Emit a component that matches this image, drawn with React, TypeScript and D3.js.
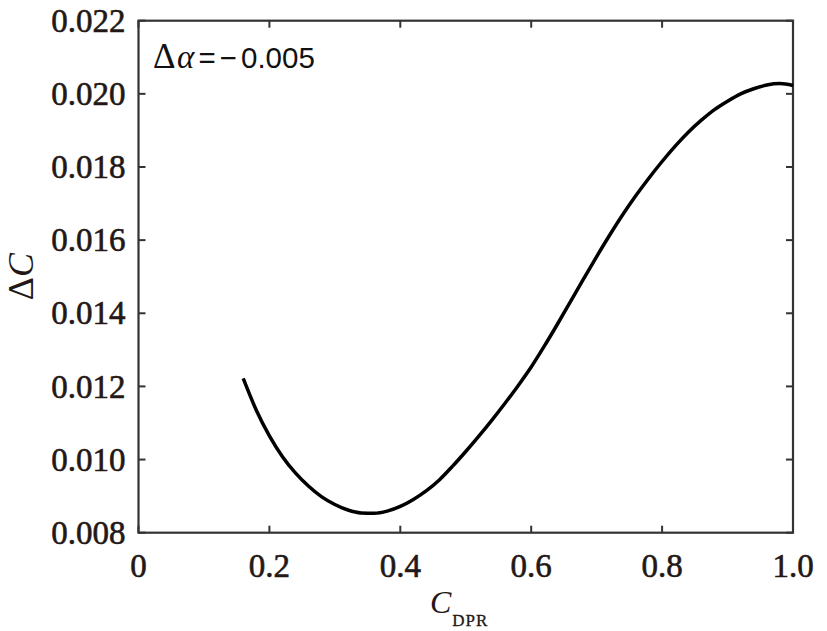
import { useEffect, useRef } from 'react'
import * as d3 from 'd3'

// C_DPR values along the curve
const cdpr = [
  0.16, 0.18, 0.2, 0.22, 0.24, 0.26, 0.28, 0.3, 0.32, 0.34, 0.36, 0.38, 0.4, 0.42, 0.44, 0.46, 0.48, 0.5,
  0.52, 0.54, 0.56, 0.58, 0.6, 0.62, 0.64, 0.66, 0.68, 0.7, 0.72, 0.74, 0.76, 0.78, 0.8, 0.82, 0.84, 0.86,
  0.88, 0.9, 0.92, 0.94, 0.96, 0.98, 1.0,
]
// ΔC
const deltaC = [
  0.01222, 0.01135, 0.01065, 0.01008, 0.00963, 0.00927, 0.00898, 0.00877, 0.00862, 0.00854, 0.00853, 0.00859,
  0.00872, 0.00891, 0.00915, 0.00945, 0.00982, 0.01022, 0.01064, 0.01108, 0.01154, 0.01202, 0.01253, 0.0131,
  0.0137, 0.01432, 0.01494, 0.01555, 0.01614, 0.0167, 0.01722, 0.0177, 0.01815, 0.01857, 0.01895,
  0.01928, 0.01957, 0.0198, 0.02, 0.02014, 0.02024, 0.02028, 0.02023,
]
const xTicks = [0, 0.2, 0.4, 0.6, 0.8, 1.0]
const yTicks = [0.008, 0.01, 0.012, 0.014, 0.016, 0.018, 0.02, 0.022]

const W = 827
const H = 631
const SERIF = '"Liberation Serif", "Times New Roman", serif'
const SANS = '"Liberation Sans", Arial, sans-serif'
const AXIS = '#333'
const TEXT = '#231815'

export default function App() {
  const ref = useRef<SVGSVGElement | null>(null)

  useEffect(() => {
    if (!ref.current) {return}
    const svg = d3.select(ref.current)
    svg.selectAll('*').remove()

    const margin = { top: 20.7, right: 34, bottom: 98.3, left: 138.5 }
    const innerWidth = W - margin.left - margin.right
    const innerHeight = H - margin.top - margin.bottom

    const x = d3.scaleLinear().domain([0, 1]).range([0, innerWidth])
    const y = d3.scaleLinear().domain([0.008, 0.022]).range([innerHeight, 0])

    const root = svg.append('g').attr('transform', `translate(${margin.left},${margin.top})`)

    const tickLen = 7

    // inward ticks on all four sides
    const tickG = root.append('g').attr('stroke', AXIS).attr('stroke-width', 2)
    tickG
      .selectAll('line.xb')
      .data(xTicks)
      .join('line')
      .attr('class', 'xb')
      .attr('x1', (d) => x(d))
      .attr('x2', (d) => x(d))
      .attr('y1', innerHeight)
      .attr('y2', innerHeight - tickLen)
    tickG
      .selectAll('line.xt')
      .data(xTicks)
      .join('line')
      .attr('class', 'xt')
      .attr('x1', (d) => x(d))
      .attr('x2', (d) => x(d))
      .attr('y1', 0)
      .attr('y2', tickLen)
    tickG
      .selectAll('line.yl')
      .data(yTicks)
      .join('line')
      .attr('class', 'yl')
      .attr('x1', 0)
      .attr('x2', tickLen)
      .attr('y1', (d) => y(d))
      .attr('y2', (d) => y(d))
    tickG
      .selectAll('line.yr')
      .data(yTicks)
      .join('line')
      .attr('class', 'yr')
      .attr('x1', innerWidth)
      .attr('x2', innerWidth - tickLen)
      .attr('y1', (d) => y(d))
      .attr('y2', (d) => y(d))

    root
      .append('rect')
      .attr('x', 0)
      .attr('y', 0)
      .attr('width', innerWidth)
      .attr('height', innerHeight)
      .attr('fill', 'none')
      .attr('stroke', AXIS)
      .attr('stroke-width', 2.2)

    // tick labels (regular serif, thickened a little with a stroke)
    const tickText = (sel: d3.Selection<SVGTextElement, number, SVGGElement, unknown>) =>
      sel
        .attr('fill', TEXT)
        .attr('stroke', TEXT)
        .attr('stroke-width', 0.6)
        .style('font-family', SERIF)
        .style('font-size', '33px')

    root
      .append('g')
      .selectAll<SVGTextElement, number>('text')
      .data(xTicks)
      .join('text')
      .attr('x', (d) => x(d))
      .attr('y', innerHeight + 44)
      .attr('text-anchor', 'middle')
      .call(tickText)
      .text((d) => (d === 0 ? '0' : d.toFixed(1)))

    root
      .append('g')
      .selectAll<SVGTextElement, number>('text')
      .data(yTicks)
      .join('text')
      .attr('x', -13)
      .attr('y', (d) => y(d))
      .attr('dy', '0.34em')
      .attr('text-anchor', 'end')
      .call(tickText)
      .text((d) => d.toFixed(3))

    // curve
    const pts = cdpr.map((c, i) => [c, deltaC[i]] as [number, number])
    const line = d3
      .line<[number, number]>()
      .x((d) => x(d[0]))
      .y((d) => y(d[1]))
      .curve(d3.curveMonotoneX)
    root
      .append('path')
      .datum(pts)
      .attr('fill', 'none')
      .attr('stroke', '#000')
      .attr('stroke-width', 3.5)
      .attr('stroke-linejoin', 'round')
      .attr('d', line)

    // annotation
    const ann = root
      .append('text')
      .attr('y', 47.6)
      .attr('fill', '#111')
      .style('font-family', SANS)
      .style('font-size', '29.5px')
    ann.append('tspan').attr('x', 14.5).style('font-family', SERIF).style('font-size', '35px').text('Δ')
    ann.append('tspan').attr('x', 38.5).style('font-family', SERIF).style('font-style', 'italic').style('font-size', '33px').text('α')
    ann.append('tspan').attr('x', 60).text('=')
    ann.append('tspan').attr('x', 81).text('−')
    ann.append('tspan').attr('x', 102.5).text('0.005')

    // axis titles
    const xt = root
      .append('text')
      .attr('x', 291.5)
      .attr('y', innerHeight + 80.3)
      .attr('fill', TEXT)
      .style('font-family', SERIF)
    xt.append('tspan').style('font-style', 'italic').style('font-size', '32px').text('C')
    xt
      .append('tspan')
      .attr('dx', 1)
      .attr('dy', 13)
      .attr('stroke', TEXT)
      .attr('stroke-width', 0.3)
      .style('font-size', '17px')
      .style('letter-spacing', '1px')
      .text('DPR')

    const yt = root
      .append('text')
      .attr('transform', `translate(${-105.5},${innerHeight / 2}) rotate(-90)`)
      .attr('text-anchor', 'middle')
      .attr('fill', TEXT)
      .style('font-family', SERIF)
      .style('font-size', '36px')
    yt.append('tspan').text('Δ')
    yt.append('tspan').style('font-style', 'italic').text('C')
  }, [])

  return (
    <div style={{ position: 'fixed', left: 0, top: 0, width: W, height: H, background: '#fff' }}>
      <svg ref={ref} width={W} height={H} role="img" aria-label="Delta C versus C_DPR" style={{ display: 'block' }} />
    </div>
  )
}
